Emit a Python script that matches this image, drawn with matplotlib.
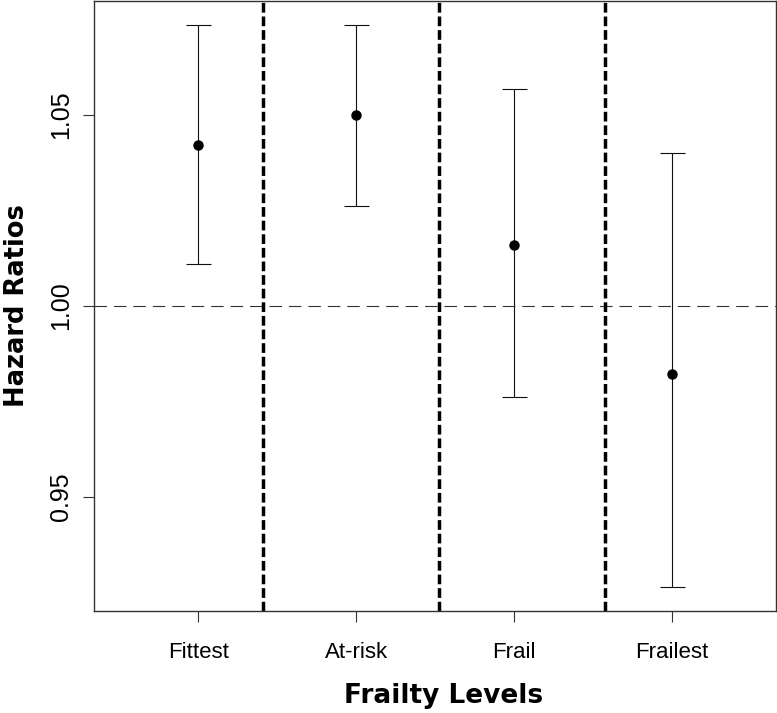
import matplotlib
matplotlib.use("Agg")
import matplotlib.pyplot as plt

categories = ["Fittest", "At-risk", "Frail", "Frailest"]
hr = [1.042, 1.050, 1.016, 0.982]
ci_low = [1.011, 1.026, 0.976, 0.9264]
ci_high = [1.0735, 1.0735, 1.0568, 1.040]
separators = [1.41, 2.525, 3.58]
yticks = [0.95, 1.00, 1.05]
ytick_labels = ["0.95", "1.00", "1.05"]

plt.rcParams['font.family'] = ['Liberation Sans', 'DejaVu Sans']
plt.rcParams['lines.scale_dashes'] = False

fig = plt.figure(figsize=(7.77, 7.13), dpi=100)
ax = fig.add_axes([94/777, (713-611)/713, (776-94)/777, 611/713 - 0.001])

x = list(range(1, len(categories) + 1))
yerr = [[h - l for h, l in zip(hr, ci_low)], [u - h for h, u in zip(hr, ci_high)]]
ax.errorbar(x, hr, yerr=yerr, fmt='o', color='black', ecolor='#111111',
            elinewidth=0.8, capsize=9, capthick=0.8, markersize=6.5)

ax.axhline(1.0, color='#333333', lw=0.8, dashes=(9, 5))
for s in separators:
    ax.axvline(s, color='black', lw=2.5, dashes=(7, 2.8))

ax.set_xlim(0.34, 4.66)
ax.set_ylim(0.9201, 1.0798)
ax.set_xticks(x)
ax.set_xticklabels(categories, fontsize=16)
ax.set_yticks(yticks)
ax.set_yticklabels(ytick_labels, fontsize=18, rotation=90, va='center')
ax.tick_params(axis='both', length=8, width=0.8, color='#333333')
ax.tick_params(axis='x', pad=14)
ax.tick_params(axis='y', pad=7)
for sp in ax.spines.values():
    sp.set_linewidth(1.0)
    sp.set_color('#333333')

ax.set_xlabel("Frailty Levels", fontsize=19, fontweight='heavy',
              family=['DejaVu Sans'])
ax.xaxis.set_label_coords(0.512, -0.118)
ax.set_ylabel("Hazard Ratios", fontsize=18.5, fontweight='heavy',
              family=['DejaVu Sans'], labelpad=14)

fig.savefig("out.png", dpi=100)
